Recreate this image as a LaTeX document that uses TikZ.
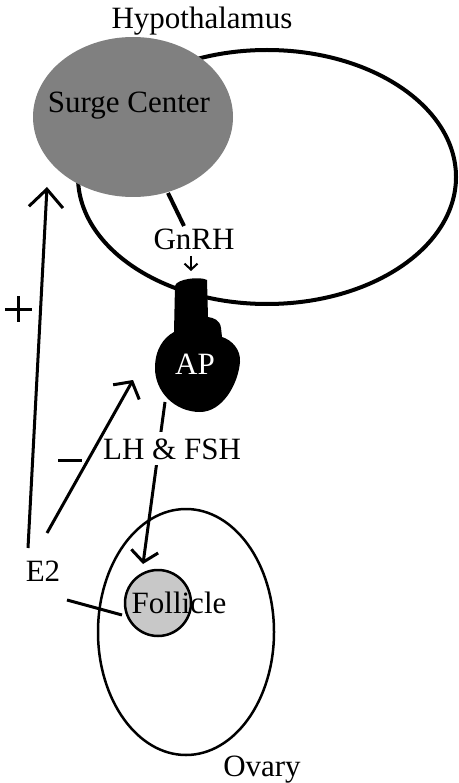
\documentclass[tikz,border=0pt]{standalone}
\usepackage{fontspec}
\setmainfont{Liberation Serif}
\usetikzlibrary{arrows.meta,shapes.geometric}
\definecolor{surgegray}{HTML}{808080}
\definecolor{folliclegray}{HTML}{C8C8C8}
\begin{document}
\begin{tikzpicture}[x=1pt,y=-1pt,
  txt/.style={inner sep=0pt, anchor=base, font=\fontsize{31}{36}\selectfont},
  organ/.style={ellipse, inner sep=0pt, draw=black},
  stroke/.style={line width=3pt},
  bigarrow/.style={line width=3pt, -{Straight Barb[length=18pt,width=34pt,line width=3pt]}},
  midarrow/.style={line width=3pt, -{Straight Barb[length=12pt,width=30pt,line width=3pt]}},
  lharrow/.style={line width=3pt, -{Straight Barb[length=11pt,width=27pt,line width=3pt]}},
  tinyarrow/.style={line width=2pt, -{Straight Barb[length=6pt,width=13pt,line width=2pt]}}]
\useasboundingbox (0,0) rectangle (458,783);

% hypothalamus outline and surge center
\node[organ, line width=4pt, minimum width=378pt, minimum height=254pt] (hypo) at (267,177) {};
\node[ellipse, inner sep=0pt, fill=surgegray, minimum width=200pt, minimum height=160pt] (surge) at (133,117) {};
\node[txt] (surgetxt) at (129,113) {Surge Center};
\node[txt] (hypotxt) at (202,28.5) {Hypothalamus};

% anterior pituitary
\path[fill=black] (175,286) .. controls (176,279) and (200,276) .. (207,280)
  -- (208,317) .. controls (214,318) and (220,320) .. (221,328) -- (222,337)
  .. controls (232,340) and (241,350) .. (240,362)
  .. controls (238,385) and (222,412) .. (200,412)
  .. controls (175,412) and (155,392) .. (155,368)
  .. controls (155,350) and (163,338) .. (174,332) -- cycle;
\node[txt, text=white] (ap) at (195,374) {AP};

% GnRH release
\coordinate (scout) at (168,193);
\coordinate (gnrhtop) at (184,226);
\coordinate (gnrhfrom) at (191,256);
\coordinate (gnrhto) at (191,271);
\draw[line width=4pt] (scout) -- (gnrhtop);
\node[txt] (gnrh) at (194,250) {GnRH};
\draw[tinyarrow] (gnrhfrom) -- (gnrhto);

% ovary and follicle
\node[organ, line width=2.5pt, minimum width=176pt, minimum height=246pt] (ovary) at (186,632) {};
\node[circle, inner sep=0pt, draw=black, line width=2.5pt, fill=folliclegray, minimum size=66pt] (follicle) at (158,603) {};
\node[txt] (follicletxt) at (179,613) {Follicle};
\node[txt] (ovarytxt) at (262,776) {Ovary};

% gonadotropins from AP to follicle
\coordinate (lhstart) at (165,402);
\coordinate (lhtip) at (143,564);
\draw[lharrow] (lhstart) -- (lhtip);
\node[txt, fill=white, inner xsep=2pt, inner ysep=6pt] (lhfsh) at (172,459) {LH \& FSH};

% estradiol feedback
\node[txt] (e2) at (43,581) {E2};
\coordinate (posfrom) at (28,548);
\coordinate (posto) at (47,187);
\draw[bigarrow] (posfrom) -- (posto);
\coordinate (negfrom) at (47,533);
\coordinate (negto) at (133,380);
\draw[midarrow] (negfrom) -- (negto);
\coordinate (e2out) at (67,600);
\coordinate (follin) at (122,615);
\draw[stroke] (e2out) -- (follin);

% feedback signs
\draw[stroke] (5,309) -- (32,309);
\draw[stroke] (18.5,296) -- (18.5,322);
\draw[stroke] (58,460) -- (82,460);
\end{tikzpicture}
\end{document}
